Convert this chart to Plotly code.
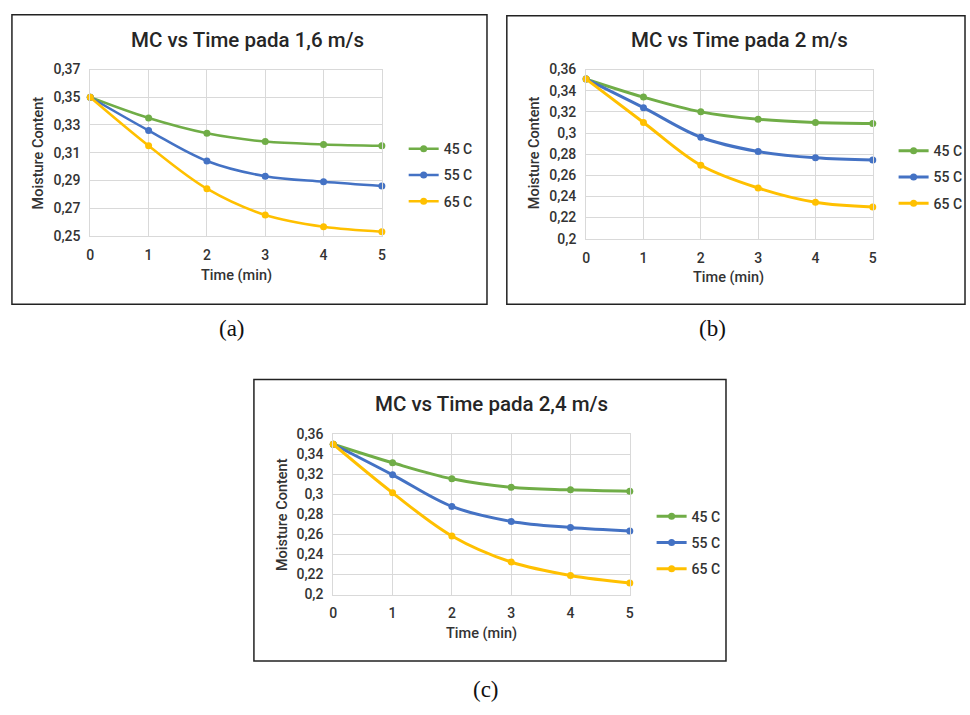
import plotly.graph_objects as go

W, H = 970, 715

# ---------------- data ----------------
time_min = [0, 1, 2, 3, 4, 5]
series_names = ["45 C", "55 C", "65 C"]
series_colors = ["#70AD47", "#4472C4", "#FFC000"]

mc_16_45 = [0.350, 0.335, 0.324, 0.318, 0.316, 0.315]
mc_16_55 = [0.350, 0.326, 0.304, 0.293, 0.289, 0.286]
mc_16_65 = [0.350, 0.315, 0.284, 0.265, 0.2565, 0.253]

mc_20_45 = [0.351, 0.334, 0.320, 0.313, 0.310, 0.309]
mc_20_55 = [0.351, 0.324, 0.296, 0.2825, 0.2765, 0.2745]
mc_20_65 = [0.351, 0.310, 0.2695, 0.248, 0.2345, 0.230]

mc_24_45 = [0.350, 0.3315, 0.3155, 0.307, 0.3045, 0.303]
mc_24_55 = [0.350, 0.3195, 0.288, 0.273, 0.267, 0.2635]
mc_24_65 = [0.350, 0.3015, 0.2585, 0.2325, 0.219, 0.2115]

titles = ["MC vs Time pada 1,6 m/s", "MC vs Time pada 2 m/s", "MC vs Time pada 2,4 m/s"]
captions = ["(a)", "(b)", "(c)"]
x_title = "Time (min)"
y_title = "Moisture Content"

yticks_a = [0.25, 0.27, 0.29, 0.31, 0.33, 0.35, 0.37]
yticklabels_a = ["0,25", "0,27", "0,29", "0,31", "0,33", "0,35", "0,37"]
yticks_bc = [0.20, 0.22, 0.24, 0.26, 0.28, 0.30, 0.32, 0.34, 0.36]
yticklabels_bc = ["0,2", "0,22", "0,24", "0,26", "0,28", "0,3", "0,32", "0,34", "0,36"]

# ---------------- layout helpers ----------------
def fx(px):
    return px / W

def fy(py):
    return 1 - py / H

FONT = "Roboto, Arial, sans-serif"
TXT = "#333333"

panels = [
    dict(data=[mc_16_45, mc_16_55, mc_16_65], yr=[0.25, 0.37], yt=yticks_a, ytl=yticklabels_a,
         box=(8, 7, 487, 303), plot=(87, 63, 381, 233), title=(246, 33),
         ytitle=(35, 148), xtitle=(234, 274), leg=(403, 171), cap=(230, 328), lw=2.5),
    dict(data=[mc_20_45, mc_20_55, mc_20_65], yr=[0.20, 0.36], yt=yticks_bc, ytl=yticklabels_bc,
         box=(507, 8, 969, 303), plot=(587, 63, 876, 236), title=(742, 33),
         ytitle=(535, 148), xtitle=(731, 276), leg=(897, 173), cap=(714, 328), lw=3),
    dict(data=[mc_24_45, mc_24_55, mc_24_65], yr=[0.20, 0.36], yt=yticks_bc, ytl=yticklabels_bc,
         box=(252, 380, 728, 668), plot=(332, 436, 631, 600), title=(492, 405),
         ytitle=(281, 518), xtitle=(481, 640), leg=(653, 547), cap=(486, 697), lw=3),
]

fig = go.Figure()
annotations = []
shapes = []
layout_axes = {}

for i, p in enumerate(panels):
    n = "" if i == 0 else str(i + 1)
    xa, ya = "x" + n, "y" + n
    leg = "legend" + n
    for j in range(3):
        fig.add_trace(go.Scatter(
            x=time_min, y=p["data"][j], name=series_names[j],
            mode="lines+markers", line=dict(color=series_colors[j], width=p["lw"], shape="spline"),
            marker=dict(color=series_colors[j], size=7),
            xaxis=xa, yaxis=ya, legend=leg, legendgroup=f"g{i}{j}", cliponaxis=False,
        ))
    x0, y0, x1, y1 = p["plot"]
    layout_axes["xaxis" + n] = dict(
        domain=[fx(x0), fx(x1)], range=[0, 5], anchor=ya, tickmode="array", tickvals=time_min,
        ticktext=[str(t) for t in time_min], showgrid=True, gridcolor="#D9D9D9", gridwidth=1,
        zeroline=False, showline=True, linecolor="#D9D9D9", mirror=True,
        ticks="outside", ticklen=6, tickcolor="rgba(0,0,0,0)",
        tickfont=dict(family=FONT, size=14, color=TXT, weight=500), fixedrange=True,
    )
    layout_axes["yaxis" + n] = dict(
        domain=[fy(y1), fy(y0)], range=p["yr"], anchor=xa, tickmode="array", tickvals=p["yt"],
        ticktext=p["ytl"], showgrid=True, gridcolor="#D9D9D9", gridwidth=1,
        zeroline=False, showline=True, linecolor="#D9D9D9", mirror=True,
        ticks="outside", ticklen=6, tickcolor="rgba(0,0,0,0)",
        tickfont=dict(family=FONT, size=14, color=TXT, weight=500), fixedrange=True,
    )
    lx, ly = p["leg"]
    layout_axes[leg] = dict(
        x=fx(lx), y=fy(ly), xanchor="left", yanchor="middle", xref="paper", yref="paper",
        bgcolor="rgba(0,0,0,0)", font=dict(family=FONT, size=14, color=TXT, weight=500),
        traceorder="grouped", tracegroupgap=5, itemclick=False,
    )
    bx0, by0, bx1, by1 = p["box"]
    shapes.append(dict(type="rect", xref="paper", yref="paper", x0=fx(bx0), y0=fy(by0),
                       x1=fx(bx1), y1=fy(by1), line=dict(color="#222222", width=1.5)))
    tx, ty = p["title"]
    annotations.append(dict(text=titles[i], x=fx(tx), y=fy(ty), xref="paper", yref="paper",
                            showarrow=False, xanchor="center", yanchor="middle",
                            font=dict(family=FONT, size=20.5, color="#262626", weight=500)))
    ax_, ay_ = p["ytitle"]
    annotations.append(dict(text=y_title, x=fx(ax_), y=fy(ay_), xref="paper", yref="paper",
                            showarrow=False, textangle=-90, xanchor="center", yanchor="middle",
                            font=dict(family=FONT, size=14.5, color=TXT, weight=500)))
    bx, by = p["xtitle"]
    annotations.append(dict(text=x_title, x=fx(bx), y=fy(by), xref="paper", yref="paper",
                            showarrow=False, xanchor="center", yanchor="middle",
                            font=dict(family=FONT, size=14.5, color=TXT, weight=500)))
    cx, cy = p["cap"]
    annotations.append(dict(text=captions[i], x=fx(cx), y=fy(cy), xref="paper", yref="paper",
                            showarrow=False, xanchor="center", yanchor="middle",
                            font=dict(family="Liberation Serif, Times New Roman, serif", size=23, color="#111111")))

fig.update_layout(
    width=W, height=H, autosize=False, margin=dict(l=0, r=0, t=0, b=0),
    paper_bgcolor="white", plot_bgcolor="white", showlegend=True,
    annotations=annotations, shapes=shapes, **layout_axes,
)

fig.write_html("out.html", config={"displayModeBar": False})
